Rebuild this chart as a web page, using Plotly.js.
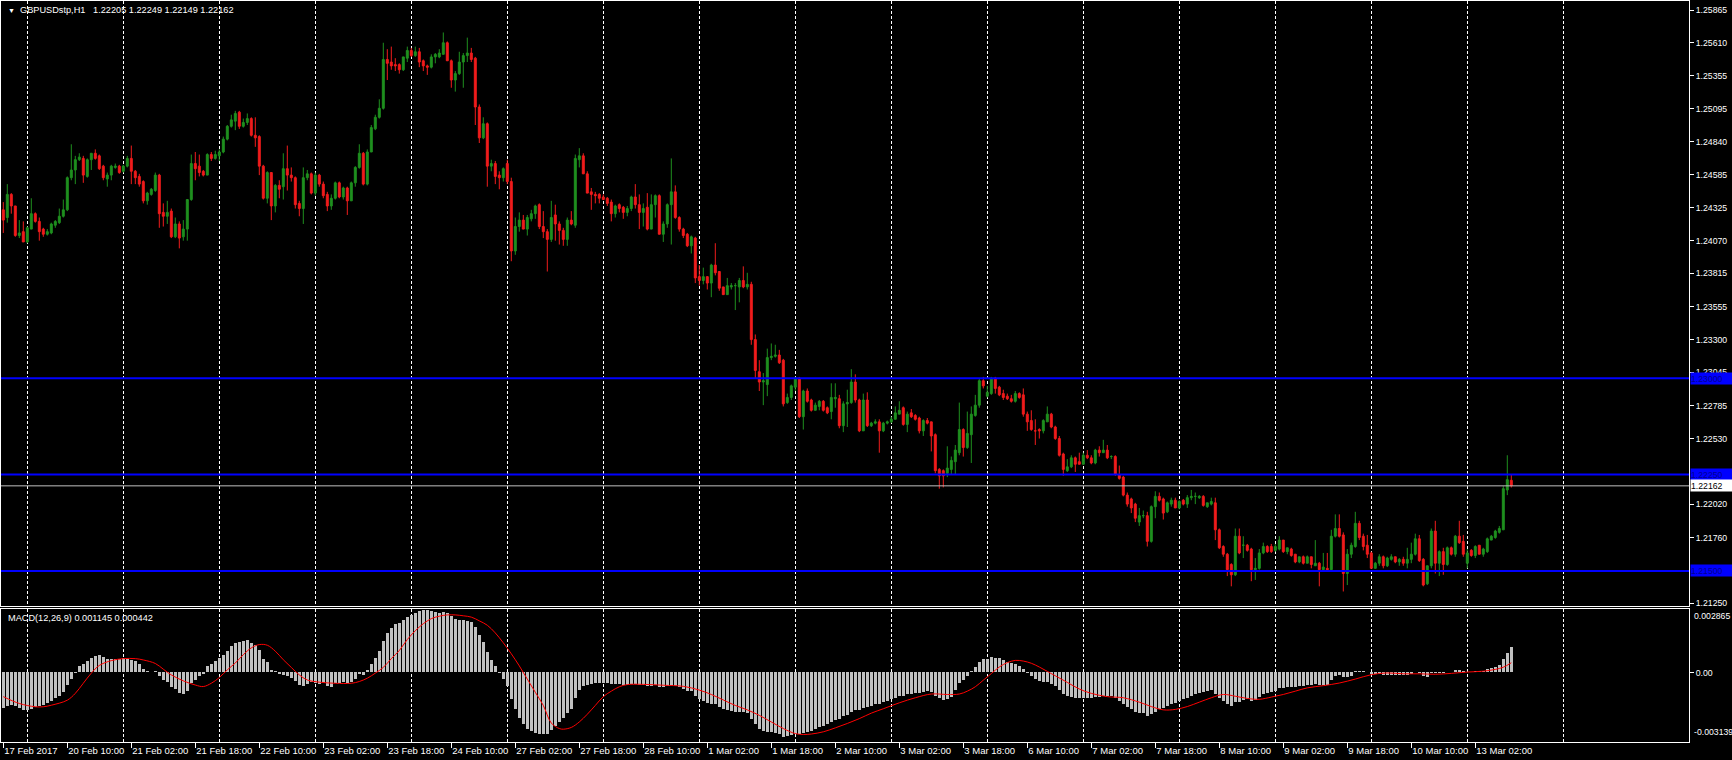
<!DOCTYPE html>
<html><head><meta charset="utf-8">
<script src="https://cdn.plot.ly/plotly-3.0.1.min.js"></script>
<style>html,body{margin:0;padding:0;background:#000;overflow:hidden}#chart{width:1732px;height:760px}</style>
</head><body><div id="chart"></div>
<script>
// ---- H1 candles, 17 Feb 2017 18:00 .. 13 Mar 2017 09:00 (bar index order) ----
const openP = [
1.2431,1.2425,1.2443,1.2434,1.2411,1.2414,1.2406,1.2416,1.2428,1.2422,
1.2416,1.2412,1.2413,1.2419,1.2421,1.2426,1.2431,1.2456,1.2462,1.2470,
1.2471,1.2457,1.2470,1.2475,1.2473,1.2465,1.2455,1.2458,1.2464,1.2465,
1.2461,1.2465,1.2471,1.2461,1.2457,1.2453,1.2438,1.2443,1.2446,1.2458,
1.2429,1.2426,1.2430,1.2410,1.2420,1.2410,1.2416,1.2439,1.2467,1.2465,
1.2461,1.2458,1.2474,1.2471,1.2473,1.2476,1.2486,1.2496,1.2500,1.2507,
1.2496,1.2499,1.2502,1.2489,1.2488,1.2465,1.2440,1.2460,1.2434,1.2450,
1.2449,1.2463,1.2458,1.2456,1.2436,1.2432,1.2456,1.2459,1.2444,1.2458,
1.2451,1.2443,1.2434,1.2440,1.2452,1.2441,1.2448,1.2438,1.2452,1.2464,
1.2475,1.2451,1.2476,1.2494,1.2503,1.2510,1.2548,1.2546,1.2544,1.2544,
1.2540,1.2549,1.2555,1.2551,1.2554,1.2547,1.2543,1.2542,1.2550,1.2550,
1.2552,1.2561,1.2547,1.2532,1.2537,1.2546,1.2551,1.2553,1.2549,1.2511,
1.2487,1.2498,1.2465,1.2467,1.2458,1.2456,1.2467,1.2453,1.2399,1.2418,
1.2423,1.2416,1.2424,1.2428,1.2435,1.2418,1.2414,1.2408,1.2427,1.2420,
1.2415,1.2408,1.2423,1.2419,1.2470,1.2473,1.2459,1.2445,1.2443,1.2443,
1.2441,1.2440,1.2437,1.2428,1.2435,1.2433,1.2429,1.2432,1.2441,1.2435,
1.2429,1.2433,1.2416,1.2435,1.2442,1.2412,1.2420,1.2435,1.2445,1.2425,
1.2416,1.2412,1.2403,1.2409,1.2379,1.2376,1.2379,1.2374,1.2388,1.2383,
1.2371,1.2365,1.2371,1.2372,1.2371,1.2376,1.2371,1.2373,1.2330,1.2305,
1.2297,1.2295,1.2316,1.2317,1.2318,1.2314,1.2281,1.2285,1.2293,1.2300,
1.2270,1.2290,1.2283,1.2275,1.2278,1.2282,1.2277,1.2274,1.2284,1.2284,
1.2263,1.2280,1.2281,1.2297,1.2283,1.2259,1.2283,1.2263,1.2265,1.2266,
1.2259,1.2265,1.2266,1.2268,1.2272,1.2277,1.2264,1.2273,1.2271,1.2269,
1.2259,1.2267,1.2266,1.2256,1.2229,1.2228,1.2226,1.2229,1.2235,1.2242,
1.2260,1.2246,1.2256,1.2271,1.2279,1.2298,1.2286,1.2288,1.2300,1.2293,
1.2288,1.2286,1.2284,1.2282,1.2288,1.2287,1.2272,1.2267,1.2259,1.2260,
1.2259,1.2266,1.2272,1.2262,1.2253,1.2241,1.2228,1.2231,1.2238,1.2235,
1.2233,1.2240,1.2238,1.2234,1.2244,1.2242,1.2244,1.2239,1.2239,1.2225,
1.2223,1.2209,1.2206,1.2202,1.2188,1.2193,1.2193,1.2173,1.2200,1.2208,
1.2206,1.2196,1.2202,1.2205,1.2199,1.2205,1.2202,1.2207,1.2208,1.2207,
1.2208,1.2200,1.2202,1.2203,1.2182,1.2169,1.2163,1.2155,1.2147,1.2177,
1.2170,1.2170,1.2167,1.2151,1.2152,1.2164,1.2169,1.2169,1.2166,1.2167,
1.2174,1.2165,1.2167,1.2163,1.2157,1.2161,1.2156,1.2161,1.2154,1.2156,
1.2151,1.2152,1.2151,1.2177,1.2183,1.2178,1.2148,1.2163,1.2169,1.2187,
1.2177,1.2170,1.2164,1.2152,1.2156,1.2161,1.2154,1.2159,1.2161,1.2157,
1.2159,1.2156,1.2159,1.2163,1.2175,1.2159,1.2140,1.2154,1.2181,1.2156,
1.2165,1.2155,1.2168,1.2163,1.2177,1.2173,1.2156,1.2166,1.2162,1.2170,
1.2163,1.2165,1.2174,1.2176,1.2180,1.2182,1.2213,1.22205];
const highP = [
1.2437,1.2451,1.2444,1.2434,1.2423,1.2422,1.2418,1.2440,1.2429,1.2425,
1.2417,1.2416,1.2421,1.2423,1.2432,1.2439,1.2457,1.2482,1.2473,1.2475,
1.2473,1.2471,1.2475,1.2478,1.2474,1.2466,1.2460,1.2466,1.2467,1.2466,
1.2466,1.2473,1.2481,1.2462,1.2459,1.2454,1.2445,1.2448,1.2460,1.2459,
1.2436,1.2438,1.2432,1.2425,1.2422,1.2423,1.2439,1.2474,1.2476,1.2474,
1.2462,1.2475,1.2476,1.2477,1.2478,1.2488,1.2497,1.2505,1.2508,1.2508,
1.2502,1.2506,1.2503,1.2503,1.2489,1.2466,1.2461,1.2460,1.2451,1.2454,
1.2475,1.2481,1.2464,1.2457,1.2438,1.2464,1.2462,1.2460,1.2460,1.2459,
1.2453,1.2445,1.2443,1.2453,1.2453,1.2449,1.2449,1.2453,1.2465,1.2482,
1.2476,1.2478,1.2497,1.2505,1.2517,1.2561,1.2556,1.2558,1.2549,1.2545,
1.2550,1.2558,1.2557,1.2558,1.2557,1.2548,1.2544,1.2552,1.2553,1.2556,
1.2569,1.2562,1.2548,1.2539,1.2554,1.2553,1.2565,1.2557,1.2550,1.2513,
1.2503,1.2499,1.2470,1.2469,1.2461,1.2464,1.2470,1.2456,1.2425,1.2429,
1.2427,1.2427,1.2431,1.2435,1.2436,1.2430,1.2416,1.2438,1.2435,1.2422,
1.2417,1.2425,1.2430,1.2474,1.2479,1.2475,1.2461,1.2448,1.2445,1.2444,
1.2443,1.2441,1.2439,1.2435,1.2436,1.2434,1.2434,1.2442,1.2451,1.2443,
1.2436,1.2444,1.2443,1.2443,1.2443,1.2422,1.2436,1.2471,1.2450,1.2426,
1.2417,1.2413,1.2411,1.2410,1.2388,1.2386,1.2379,1.2389,1.2405,1.2383,
1.2371,1.2378,1.2374,1.2374,1.2378,1.2387,1.2382,1.2375,1.2334,1.2314,
1.2304,1.2323,1.2327,1.2326,1.2322,1.2315,1.2288,1.2295,1.2301,1.2301,
1.2291,1.2292,1.2284,1.2281,1.2283,1.2283,1.2278,1.2296,1.2296,1.2287,
1.2282,1.2291,1.2307,1.2303,1.2284,1.2288,1.2289,1.2266,1.2268,1.2268,
1.2266,1.2267,1.2270,1.2278,1.2282,1.2278,1.2274,1.2276,1.2272,1.2270,
1.2268,1.2269,1.2266,1.2257,1.2230,1.2229,1.2247,1.2239,1.2248,1.2281,
1.2261,1.2274,1.2278,1.2287,1.2300,1.2301,1.2294,1.2301,1.2301,1.2294,
1.2291,1.2288,1.2287,1.2290,1.2289,1.2292,1.2274,1.2275,1.2268,1.2261,
1.2268,1.2278,1.2273,1.2263,1.2255,1.2242,1.2237,1.2240,1.2239,1.2242,
1.2242,1.2244,1.2240,1.2245,1.2247,1.2252,1.2248,1.2240,1.2240,1.2232,
1.2224,1.2211,1.2207,1.2203,1.2199,1.2197,1.2196,1.2201,1.2212,1.2211,
1.2207,1.2204,1.2207,1.2207,1.2205,1.2206,1.2209,1.2213,1.2211,1.2209,
1.2209,1.2203,1.2207,1.2207,1.2183,1.2170,1.2164,1.2156,1.2183,1.2183,
1.2177,1.2171,1.2168,1.2160,1.2167,1.2172,1.2170,1.2171,1.2171,1.2177,
1.2174,1.2168,1.2168,1.2163,1.2161,1.2162,1.2162,1.2161,1.2174,1.2157,
1.2164,1.2164,1.2182,1.2194,1.2194,1.2180,1.2167,1.2172,1.2196,1.2189,
1.2179,1.2178,1.2165,1.2157,1.2163,1.2162,1.2161,1.2163,1.2161,1.2160,
1.2161,1.2168,1.2172,1.2179,1.2178,1.2160,1.2154,1.2183,1.2189,1.2166,
1.2168,1.2169,1.2169,1.2178,1.2189,1.2178,1.2167,1.2167,1.2170,1.2170,
1.2168,1.2176,1.2178,1.2182,1.2185,1.2216,1.2240,1.22249];
const lowP = [
1.2413,1.2421,1.2428,1.2410,1.2409,1.2406,1.2405,1.2416,1.2421,1.2407,
1.2410,1.2411,1.2412,1.2417,1.2420,1.2425,1.2430,1.2454,1.2451,1.2469,
1.2452,1.2456,1.2462,1.2470,1.2462,1.2454,1.2449,1.2454,1.2463,1.2459,
1.2460,1.2464,1.2451,1.2451,1.2449,1.2436,1.2435,1.2442,1.2445,1.2417,
1.2418,1.2420,1.2409,1.2409,1.2401,1.2407,1.2407,1.2438,1.2454,1.2457,
1.2457,1.2458,1.2469,1.2470,1.2469,1.2475,1.2485,1.2495,1.2493,1.2494,
1.2495,1.2497,1.2488,1.2480,1.2458,1.2439,1.2436,1.2423,1.2429,1.2440,
1.2439,1.2446,1.2453,1.2432,1.2426,1.2420,1.2454,1.2443,1.2442,1.2449,
1.2440,1.2430,1.2431,1.2439,1.2440,1.2439,1.2427,1.2438,1.2449,1.2463,
1.2450,1.2450,1.2476,1.2493,1.2502,1.2509,1.2532,1.2540,1.2539,1.2537,
1.2539,1.2546,1.2550,1.2550,1.2542,1.2539,1.2536,1.2541,1.2545,1.2549,
1.2552,1.2547,1.2526,1.2523,1.2536,1.2526,1.2546,1.2546,1.2497,1.2483,
1.2486,1.2449,1.2461,1.2451,1.2447,1.2453,1.2451,1.2391,1.2396,1.2414,
1.2416,1.2411,1.2422,1.2424,1.2416,1.2409,1.2383,1.2406,1.2407,1.2404,
1.2403,1.2403,1.2419,1.2417,1.2464,1.2459,1.2444,1.2431,1.2436,1.2436,
1.2439,1.2434,1.2422,1.2425,1.2429,1.2424,1.2426,1.2430,1.2432,1.2416,
1.2418,1.2415,1.2416,1.2425,1.2412,1.2406,1.2417,1.2404,1.2424,1.2414,
1.2409,1.2402,1.2397,1.2374,1.2372,1.2373,1.2369,1.2363,1.2380,1.2368,
1.2365,1.2365,1.2369,1.2353,1.2359,1.2370,1.2369,1.2326,1.2300,1.2290,
1.2279,1.2286,1.2314,1.2316,1.2311,1.2278,1.2280,1.2283,1.2290,1.2269,
1.2260,1.2281,1.2274,1.2275,1.2275,1.2274,1.2272,1.2268,1.2277,1.2261,
1.2258,1.2262,1.2280,1.2281,1.2258,1.2259,1.2262,1.2262,1.2264,1.2242,
1.2258,1.2264,1.2265,1.2268,1.2272,1.2263,1.2258,1.2269,1.2267,1.2257,
1.2255,1.2264,1.2243,1.2226,1.2214,1.2215,1.2223,1.2225,1.2225,1.2240,
1.2239,1.2245,1.2234,1.2270,1.2277,1.2292,1.2285,1.2287,1.2288,1.2286,
1.2283,1.2283,1.2281,1.2281,1.2284,1.2270,1.2259,1.2259,1.2248,1.2253,
1.2257,1.2266,1.2261,1.2252,1.2239,1.2224,1.2227,1.2230,1.2227,1.2233,
1.2233,1.2237,1.2233,1.2233,1.2239,1.2242,1.2237,1.2237,1.2224,1.2221,
1.2208,1.2200,1.2195,1.2188,1.2185,1.2191,1.2169,1.2172,1.2191,1.2204,
1.2190,1.2195,1.2200,1.2199,1.2198,1.2201,1.2199,1.2205,1.2202,1.2206,
1.2200,1.2199,1.2201,1.2174,1.2167,1.2161,1.2146,1.2138,1.2146,1.2163,
1.2160,1.2165,1.2142,1.2143,1.2151,1.2163,1.2164,1.2164,1.2165,1.2166,
1.2164,1.2163,1.2161,1.2156,1.2156,1.2155,1.2156,1.2152,1.2154,1.2138,
1.2150,1.2150,1.2151,1.2176,1.2176,1.2134,1.2139,1.2160,1.2168,1.2174,
1.2166,1.2160,1.2152,1.2152,1.2154,1.2152,1.2153,1.2158,1.2156,1.2154,
1.2154,1.2152,1.2156,1.2162,1.2157,1.2138,1.2139,1.2152,1.2148,1.2146,
1.2147,1.2154,1.2162,1.2161,1.2171,1.2161,1.2152,1.2161,1.2160,1.2163,
1.2161,1.2164,1.2174,1.2175,1.2179,1.2182,1.2209,1.22149];
const closeP = [
1.2423,1.2443,1.2434,1.2411,1.2413,1.2406,1.2417,1.2428,1.2422,1.2414,
1.2412,1.2414,1.2420,1.2422,1.2426,1.2431,1.2456,1.2462,1.2470,1.2472,
1.2458,1.2470,1.2475,1.2471,1.2463,1.2456,1.2458,1.2465,1.2465,1.2460,
1.2465,1.2471,1.2461,1.2456,1.2451,1.2438,1.2444,1.2447,1.2458,1.2428,
1.2426,1.2429,1.2410,1.2420,1.2409,1.2416,1.2439,1.2467,1.2463,1.2460,
1.2458,1.2474,1.2471,1.2474,1.2476,1.2486,1.2496,1.2501,1.2506,1.2496,
1.2499,1.2502,1.2489,1.2487,1.2465,1.2440,1.2460,1.2434,1.2450,1.2447,
1.2463,1.2458,1.2456,1.2435,1.2432,1.2456,1.2459,1.2444,1.2458,1.2451,
1.2442,1.2434,1.2440,1.2452,1.2441,1.2448,1.2438,1.2452,1.2464,1.2475,
1.2451,1.2476,1.2495,1.2503,1.2510,1.2548,1.2545,1.2543,1.2543,1.2540,
1.2550,1.2555,1.2551,1.2554,1.2546,1.2543,1.2542,1.2550,1.2552,1.2553,
1.2561,1.2547,1.2532,1.2537,1.2546,1.2551,1.2553,1.2548,1.2511,1.2487,
1.2498,1.2465,1.2467,1.2457,1.2456,1.2463,1.2453,1.2399,1.2418,1.2423,
1.2416,1.2425,1.2428,1.2434,1.2418,1.2414,1.2408,1.2425,1.2420,1.2415,
1.2408,1.2423,1.2420,1.2471,1.2473,1.2459,1.2444,1.2443,1.2442,1.2440,
1.2439,1.2436,1.2428,1.2434,1.2432,1.2429,1.2432,1.2441,1.2435,1.2429,
1.2432,1.2416,1.2435,1.2442,1.2412,1.2420,1.2435,1.2445,1.2425,1.2416,
1.2411,1.2403,1.2410,1.2378,1.2376,1.2379,1.2374,1.2388,1.2382,1.2370,
1.2365,1.2372,1.2372,1.2372,1.2376,1.2371,1.2373,1.2330,1.2306,1.2297,
1.2298,1.2316,1.2317,1.2318,1.2312,1.2280,1.2285,1.2294,1.2300,1.2270,
1.2290,1.2282,1.2275,1.2279,1.2282,1.2275,1.2273,1.2285,1.2285,1.2263,
1.2280,1.2281,1.2297,1.2283,1.2259,1.2283,1.2263,1.2265,1.2266,1.2259,
1.2265,1.2266,1.2268,1.2273,1.2275,1.2264,1.2272,1.2270,1.2268,1.2259,
1.2267,1.2265,1.2255,1.2228,1.2224,1.2224,1.2230,1.2236,1.2244,1.2260,
1.2246,1.2257,1.2272,1.2279,1.2298,1.2294,1.2289,1.2300,1.2292,1.2287,
1.2285,1.2284,1.2282,1.2288,1.2285,1.2272,1.2266,1.2260,1.2259,1.2259,
1.2267,1.2272,1.2262,1.2253,1.2240,1.2229,1.2231,1.2238,1.2233,1.2233,
1.2240,1.2238,1.2234,1.2244,1.2242,1.2244,1.2238,1.2239,1.2225,1.2222,
1.2209,1.2202,1.2199,1.2191,1.2193,1.2193,1.2173,1.2200,1.2208,1.2205,
1.2195,1.2203,1.2205,1.2199,1.2204,1.2202,1.2207,1.2208,1.2208,1.2208,
1.2201,1.2203,1.2204,1.2182,1.2168,1.2163,1.2151,1.2147,1.2177,1.2164,
1.2170,1.2166,1.2151,1.2152,1.2164,1.2169,1.2165,1.2165,1.2169,1.2174,
1.2165,1.2168,1.2162,1.2157,1.2161,1.2156,1.2161,1.2155,1.2156,1.2151,
1.2153,1.2151,1.2177,1.2183,1.2177,1.2148,1.2163,1.2170,1.2187,1.2176,
1.2169,1.2163,1.2152,1.2156,1.2161,1.2154,1.2160,1.2161,1.2157,1.2159,
1.2156,1.2159,1.2163,1.2175,1.2158,1.2139,1.2154,1.2181,1.2156,1.2165,
1.2155,1.2168,1.2163,1.2177,1.2172,1.2163,1.2164,1.2162,1.2169,1.2163,
1.2167,1.2175,1.2177,1.2181,1.2183,1.2214,1.2221,1.22162];

// ---- MACD(12,26,9) main line (histogram), read per bar ----
const macdMain = [
-0.00161,-0.00152,-0.00149,-0.00152,-0.00161,-0.00172,-0.00172,-0.00164,-0.00156,-0.00152,
-0.00149,-0.00141,-0.00130,-0.00118,-0.00106,-0.00087,-0.00057,-0.00031,-0.00003,0.00028,
0.00038,0.00051,0.00066,0.00077,0.00078,0.00069,0.00063,0.00063,0.00063,0.00063,
0.00066,0.00063,0.00058,0.00051,0.00038,0.00017,0.00005,0.00002,0.00005,-0.00014,
-0.00034,-0.00041,-0.00064,-0.00075,-0.00095,-0.00100,-0.00084,-0.00049,-0.00034,-0.00014,
-0.00008,0.00028,0.00038,0.00054,0.00066,0.00081,0.00100,0.00120,0.00135,0.00140,
0.00143,0.00146,0.00135,0.00127,0.00104,0.00063,0.00048,0.00012,0.00005,-0.00008,
-0.00011,-0.00014,-0.00023,-0.00038,-0.00057,-0.00060,-0.00054,-0.00044,-0.00049,-0.00054,
-0.00049,-0.00060,-0.00064,-0.00049,-0.00049,-0.00044,-0.00049,-0.00044,-0.00029,-0.00008,
-0.00011,0.00012,0.00038,0.00066,0.00097,0.00143,0.00181,0.00204,0.00219,0.00227,
0.00240,0.00252,0.00262,0.00272,0.00281,0.00286,0.00284,0.00280,0.00277,0.00272,
0.00274,0.00270,0.00255,0.00245,0.00240,0.00238,0.00235,0.00228,0.00205,0.00170,
0.00140,0.00095,0.00058,0.00028,-0.00002,-0.00030,-0.00060,-0.00120,-0.00165,-0.00205,
-0.00235,-0.00255,-0.00268,-0.00275,-0.00280,-0.00280,-0.00278,-0.00262,-0.00245,-0.00225,
-0.00205,-0.00185,-0.00168,-0.00115,-0.00080,-0.00062,-0.00058,-0.00052,-0.00048,-0.00046,
-0.00046,-0.00048,-0.00052,-0.00052,-0.00053,-0.00055,-0.00055,-0.00052,-0.00052,-0.00055,
-0.00056,-0.00062,-0.00060,-0.00056,-0.00066,-0.00066,-0.00062,-0.00056,-0.00062,-0.00068,
-0.00074,-0.00082,-0.00086,-0.00105,-0.00120,-0.00130,-0.00140,-0.00142,-0.00145,-0.00155,
-0.00165,-0.00170,-0.00175,-0.00180,-0.00182,-0.00182,-0.00185,-0.00210,-0.00235,-0.00255,
-0.00268,-0.00270,-0.00272,-0.00275,-0.00280,-0.00292,-0.00290,-0.00285,-0.00278,-0.00282,
-0.00275,-0.00270,-0.00265,-0.00258,-0.00250,-0.00242,-0.00235,-0.00225,-0.00215,-0.00212,
-0.00200,-0.00192,-0.00178,-0.00170,-0.00170,-0.00160,-0.00158,-0.00152,-0.00145,-0.00142,
-0.00135,-0.00128,-0.00122,-0.00115,-0.00108,-0.00106,-0.00100,-0.00096,-0.00093,-0.00092,
-0.00088,-0.00086,-0.00088,-0.00105,-0.00118,-0.00125,-0.00120,-0.00110,-0.00080,-0.00050,
-0.00035,-0.00018,0.00005,0.00025,0.00048,0.00060,0.00062,0.00070,0.00068,0.00064,
0.00058,0.00050,0.00042,0.00038,0.00030,0.00015,-0.00002,-0.00018,-0.00030,-0.00040,
-0.00045,-0.00045,-0.00052,-0.00062,-0.00078,-0.00098,-0.00108,-0.00110,-0.00115,-0.00118,
-0.00115,-0.00115,-0.00118,-0.00112,-0.00110,-0.00106,-0.00106,-0.00106,-0.00118,-0.00128,
-0.00142,-0.00155,-0.00165,-0.00178,-0.00185,-0.00186,-0.00198,-0.00190,-0.00178,-0.00168,
-0.00162,-0.00152,-0.00145,-0.00138,-0.00130,-0.00122,-0.00115,-0.00106,-0.00098,-0.00092,
-0.00090,-0.00084,-0.00080,-0.00098,-0.00115,-0.00128,-0.00142,-0.00152,-0.00135,-0.00132,
-0.00125,-0.00122,-0.00128,-0.00125,-0.00112,-0.00100,-0.00094,-0.00088,-0.00082,-0.00072,
-0.00072,-0.00066,-0.00064,-0.00064,-0.00060,-0.00060,-0.00056,-0.00056,-0.00054,-0.00056,
-0.00056,-0.00055,-0.00035,-0.00018,-0.00010,-0.00022,-0.00020,-0.00014,0.00005,0.00008,
0.00006,0.00002,-0.00006,-0.00008,-0.00008,-0.00010,-0.00010,-0.00010,-0.00010,-0.00010,
-0.00012,-0.00010,-0.00008,0.00000,-0.00004,-0.00018,-0.00020,-0.00004,-0.00004,-0.00002,
-0.00004,0.00002,0.00002,0.00010,0.00012,0.00008,0.00004,0.00004,0.00008,0.00006,
0.00008,0.00014,0.00020,0.00026,0.00032,0.00060,0.00090,0.001145];
// ---- signal line, read at these bars ----
const signalBars = [0,4,8,10,12,16,18,20,22,24,27,30,33,35,38,40,42,45,48,50,52,54,56,58,60,62,64,66,68,70,72,74,76,79,83,87,89,91,93,95,97,99,
101,103,105,107,109,111,113,115,117,119,121,123,125,127,129,131,133,135,137,139,140,142,144,146,148,150,152,154,156,160,165,170,174,177,180,183,186,189,192,195,198,200,202,205,208,211,214,217,220,224,228,232,236,239,241,243,245,247,249,251,253,255,257,259,261,263,266,269,272,276,280,284,287,290,293,296,299,302,305,308,311,314,317,320,323,326,330,334,338,342,346,350,354,358,362,366,370,373,375,377];
const signalVals = [-0.00110,-0.00141,-0.00156,-0.00156,-0.00149,-0.00126,-0.00095,-0.00049,-0.00003,0.00032,0.00054,0.00063,0.00063,0.00057,0.00041,0.00015,-0.00011,-0.00038,-0.00057,-0.00064,-0.00049,-0.00023,0.00012,0.00043,0.00081,0.00112,0.00127,0.00124,0.00097,0.00058,0.00023,-0.00011,-0.00034,-0.00044,-0.00049,-0.00049,-0.00041,-0.00026,-0.00003,0.00023,0.00063,0.00100,
0.00150,0.00190,0.00222,0.00245,0.00256,0.00262,0.00262,0.00258,0.00252,0.00235,0.00215,0.00180,0.00135,0.00085,0.00030,-0.00030,-0.00090,-0.00150,-0.00230,-0.00255,-0.00258,-0.00250,-0.00225,-0.00190,-0.00150,-0.00110,-0.00085,-0.00065,-0.00055,-0.00054,-0.00058,-0.00063,-0.00080,-0.00100,-0.00125,-0.00150,-0.00170,-0.00195,-0.00225,-0.00255,-0.00278,-0.00282,-0.00280,-0.00270,-0.00252,-0.00232,-0.00210,-0.00185,-0.00165,-0.00138,-0.00115,-0.00098,-0.00100,-0.00098,-0.00085,-0.00065,-0.00035,-0.00005,0.00025,0.00045,0.00055,0.00052,0.00042,0.00025,0.00005,-0.00015,-0.00045,-0.00075,-0.00095,-0.00110,-0.00115,-0.00135,-0.00155,-0.00170,-0.00168,-0.00155,-0.00135,-0.00115,-0.00100,-0.00108,-0.00118,-0.00122,-0.00112,-0.00100,-0.00085,-0.00070,-0.00060,-0.00048,-0.00030,-0.00010,-0.00002,-0.00006,-0.00006,-0.00008,-0.00004,0.00002,0.00006,0.00014,0.00024,0.000442];

// ---- axes labels ----
const timeTickBars = [0,16,32,48,64,80,96,112,128,144,160,176,192,208,224,240,256,272,288,304,320,336,352,368];
const timeTickLabels = ["17 Feb 2017","20 Feb 10:00","21 Feb 02:00","21 Feb 18:00","22 Feb 10:00","23 Feb 02:00","23 Feb 18:00","24 Feb 10:00","27 Feb 02:00","27 Feb 18:00","28 Feb 10:00","1 Mar 02:00","1 Mar 18:00","2 Mar 10:00","3 Mar 02:00","3 Mar 18:00","6 Mar 10:00","7 Mar 02:00","7 Mar 18:00","8 Mar 10:00","9 Mar 02:00","9 Mar 18:00","10 Mar 10:00","13 Mar 02:00"];
const dayStartBars = [6,30,54,78,102,126,150,174,198,222,246,270,294,318,342,366,390];
// price scale labels (the two that sit under the 1.22250 and 1.21500 level tags are hidden there)
const priceTicks = [1.25865,1.25610,1.25355,1.25095,1.24840,1.24585,1.24325,1.24070,1.23815,1.23555,1.23300,1.23045,1.22785,1.22530,1.22020,1.21760,1.21250];
const macdMaxLabel = "0.002865", macdZeroLabel = "0.00", macdMinLabel = "-0.003139";
const macdMax = 0.002865, macdMin = -0.003139;
const levelLines = [1.23000,1.22250,1.21500];
const lastPrice = 1.22162;
const header = {symbol:"GBPUSDstp,H1", o:"1.22205", h:"1.22249", l:"1.22149", c:"1.22162"};
const macdHeader = "MACD(12,26,9) 0.001145 0.000442";

const FONT = "Liberation Sans, Arial, sans-serif";
const AX = 8.7;
const idx = closeP.map((_, i) => i);

const traces = [
  {type:'candlestick', x: idx, open: openP, high: highP, low: lowP, close: closeP,
   xaxis:'x', yaxis:'y', whiskerwidth:0, hoverinfo:'skip',
   increasing:{line:{color:'#1f8f1f', width:1}, fillcolor:'#1f8f1f'},
   decreasing:{line:{color:'#f01c1c', width:1}, fillcolor:'#f01c1c'}},
  {type:'bar', x: idx.slice(0, macdMain.length), y: macdMain, xaxis:'x2', yaxis:'y2',
   width:0.62, marker:{color:'#c0c0c0', line:{width:0}}, hoverinfo:'skip'},
  {type:'scatter', mode:'lines', x: signalBars, y: signalVals, xaxis:'x2', yaxis:'y2',
   line:{color:'#ff0000', width:1, shape:'spline'}, hoverinfo:'skip'}
];

const W = 1732, H = 760;
const plotL = 1, plotR = 1689, plotT = 1, plotB = 742;
const mainBottom = 606, macdTop = 609;
const plotH = plotB - plotT;
const xr0 = -0.575, xr1 = xr0 + (plotR - plotL) / 4;
const macdPad = (macdMax - macdMin) * 0.004;

const shapes = [];
levelLines.forEach(v => shapes.push({type:'line', xref:'paper', x0:0, x1:1, yref:'y', y0:v, y1:v, line:{color:'#0000ff', width:2}}));
shapes.push({type:'line', xref:'paper', x0:0, x1:1, yref:'y', y0:lastPrice, y1:lastPrice, line:{color:'#c0c0c0', width:1}});

const annotations = [];
levelLines.forEach(v => annotations.push({xref:'paper', x:1, xanchor:'left', xshift:1, yref:'y', y:v, yanchor:'middle',
  text:v.toFixed(5), showarrow:false, bgcolor:'#0000ff', borderpad:0, width:42, height:11, align:'left',
  font:{family:FONT, size:AX, color:'#000090'}}));
annotations.push({xref:'paper', x:1, xanchor:'left', xshift:1, yref:'y', y:lastPrice, yanchor:'middle',
  text:lastPrice.toFixed(5), showarrow:false, bgcolor:'#ffffff', borderpad:0, width:42, height:11, align:'left',
  font:{family:FONT, size:AX, color:'#000000'}});
annotations.push({xref:'paper', yref:'paper', x:0, y:1, xanchor:'left', yanchor:'top', xshift:5, yshift:-2,
  text:'<span style="font-size:7px">▼</span>\u00a0 ' + header.symbol + '\u00a0\u00a0 ' + [header.o, header.h, header.l, header.c].join(' '),
  showarrow:false, font:{family:FONT, size:9.2, color:'#ffffff'}});
annotations.push({xref:'paper', yref:'y2 domain', x:0, y:1, xanchor:'left', yanchor:'top', xshift:5, yshift:-2,
  text:macdHeader, showarrow:false, font:{family:FONT, size:9.2, color:'#ffffff'}});
annotations.push({xref:'paper', x:1, xanchor:'left', xshift:3, yref:'y2 domain', y:1, yanchor:'top', yshift:0,
  text:macdMaxLabel, showarrow:false, font:{family:FONT, size:AX, color:'#ffffff'}});
annotations.push({xref:'paper', x:1, xanchor:'left', xshift:3, yref:'y2 domain', y:0, yanchor:'bottom', yshift:3,
  text:macdMinLabel, showarrow:false, font:{family:FONT, size:AX, color:'#ffffff'}});

const gridStyle = {showgrid:true, gridcolor:'#ffffff', gridwidth:1, griddash:'3px,2px'};
const layout = {
  width: W, height: H, paper_bgcolor:'#000000', plot_bgcolor:'#000000',
  margin:{l:plotL, r:W - plotR, t:plotT, b:H - plotB, pad:0},
  showlegend:false, dragmode:false,
  xaxis: Object.assign({domain:[0,1], anchor:'y', range:[xr0, xr1], tickmode:'array', tickvals: dayStartBars,
    showticklabels:false, ticks:'', zeroline:false, showline:true, linecolor:'#ffffff', linewidth:1, mirror:true,
    rangeslider:{visible:false}, fixedrange:true}, gridStyle),
  yaxis: {domain:[1 - (mainBottom - plotT)/plotH, 1], anchor:'x', side:'right', range:[1.21227, 1.25935],
    tickmode:'array', tickvals: priceTicks, ticktext: priceTicks.map(v => v.toFixed(5)),
    ticks:'outside', ticklen:4, tickcolor:'#ffffff', tickfont:{family:FONT, size:AX, color:'#ffffff'},
    showgrid:false, zeroline:false, showline:true, linecolor:'#ffffff', linewidth:1, mirror:true, fixedrange:true},
  xaxis2: {domain:[0,1], anchor:'y2', range:[xr0, xr1], tickmode:'array', tickvals: timeTickBars, ticktext: timeTickLabels,
    tickangle:0, ticks:'outside', ticklen:5, tickcolor:'#ffffff', ticklabelposition:'outside right',
    tickfont:{family:FONT, size:9.5, color:'#ffffff'}, showgrid:false, zeroline:false,
    minor:{tickmode:'array', tickvals: dayStartBars, ticks:'', showgrid:true, gridcolor:'#ffffff', gridwidth:1, griddash:'3px,2px'},
    showline:true, linecolor:'#ffffff', linewidth:1, mirror:true, fixedrange:true},
  yaxis2: {domain:[0, (plotB - macdTop)/plotH], anchor:'x2', side:'right', range:[macdMin - macdPad, macdMax + macdPad],
    tickmode:'array', tickvals:[0], ticktext:[macdZeroLabel],
    ticks:'outside', ticklen:4, tickcolor:'#ffffff', tickfont:{family:FONT, size:AX, color:'#ffffff'},
    showgrid:false, zeroline:false, showline:true, linecolor:'#ffffff', linewidth:1, mirror:true, fixedrange:true},
  shapes: shapes, annotations: annotations, bargap:0
};

Plotly.newPlot('chart', traces, layout, {displayModeBar:false, staticPlot:true});
</script>
</body></html>
